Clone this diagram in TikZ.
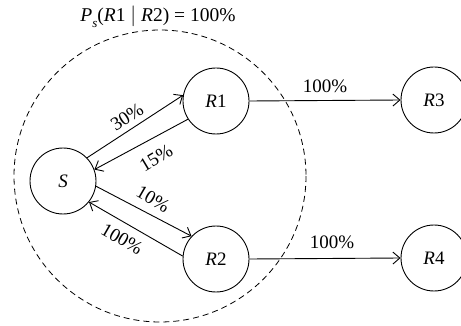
\documentclass[tikz,border=0pt]{standalone}
\usepackage{fontspec}
\setmainfont{Liberation Serif}
\usetikzlibrary{arrows.meta}
\begin{document}
\begin{tikzpicture}[x=1pt,y=-1pt,
  state/.style={draw, circle, line width=0.9pt, minimum size=66pt, inner sep=0pt, font=\fontsize{19}{22}\selectfont},
  conn/.style={line width=0.9pt, -{Straight Barb[length=7pt,width=12pt,line width=0.9pt]}},
  lbl/.style={font=\fontsize{19}{22}\selectfont, inner sep=0pt},
  ttl/.style={font=\fontsize{19.5}{22}\selectfont, inner sep=0pt}]
\useasboundingbox (0,0) rectangle (461,326);
\clip (0,0) rectangle (461,326);
\node[ttl] (title) at (158,17) {\textit{P}\raisebox{-0.3em}{\fontsize{13}{15}\selectfont\textit{s}}(\textit{R}1 $\vert$ \textit{R}2) = 100\%};
\draw[line width=0.8pt, dash pattern=on 6pt off 4pt] (160,176) circle[radius=146];
\node[state] (S) at (63,181) {\textit{S}};
\node[state] (R1) at (216,101) {\textit{R}1};
\node[state] (R2) at (216,259) {\textit{R}2};
\node[state] (R3) at (434,100) {\textit{R}3};
\node[state] (R4) at (434,258) {\textit{R}4};
\draw[conn] (S.44) -- (R1.170);
\draw[conn] (R1.213) -- (S.20);
\draw[conn] (S.-9) -- (R2.137);
\draw[conn] (R2.175) -- (S.-39);
\draw[conn] (R1.east) -- (R3.west);
\draw[conn] (R2.east) -- (R4.west);
\node[lbl, rotate=33] (l30) at (127,117) {30\%};
\node[lbl, rotate=31] (l15) at (156,158) {15\%};
\node[lbl, rotate=-30] (l10) at (153,199) {10\%};
\node[lbl, rotate=-30] (l100a) at (122,239) {100\%};
\node[lbl] (l100b) at (325,86) {100\%};
\node[lbl] (l100c) at (332,242) {100\%};
\end{tikzpicture}
\end{document}
